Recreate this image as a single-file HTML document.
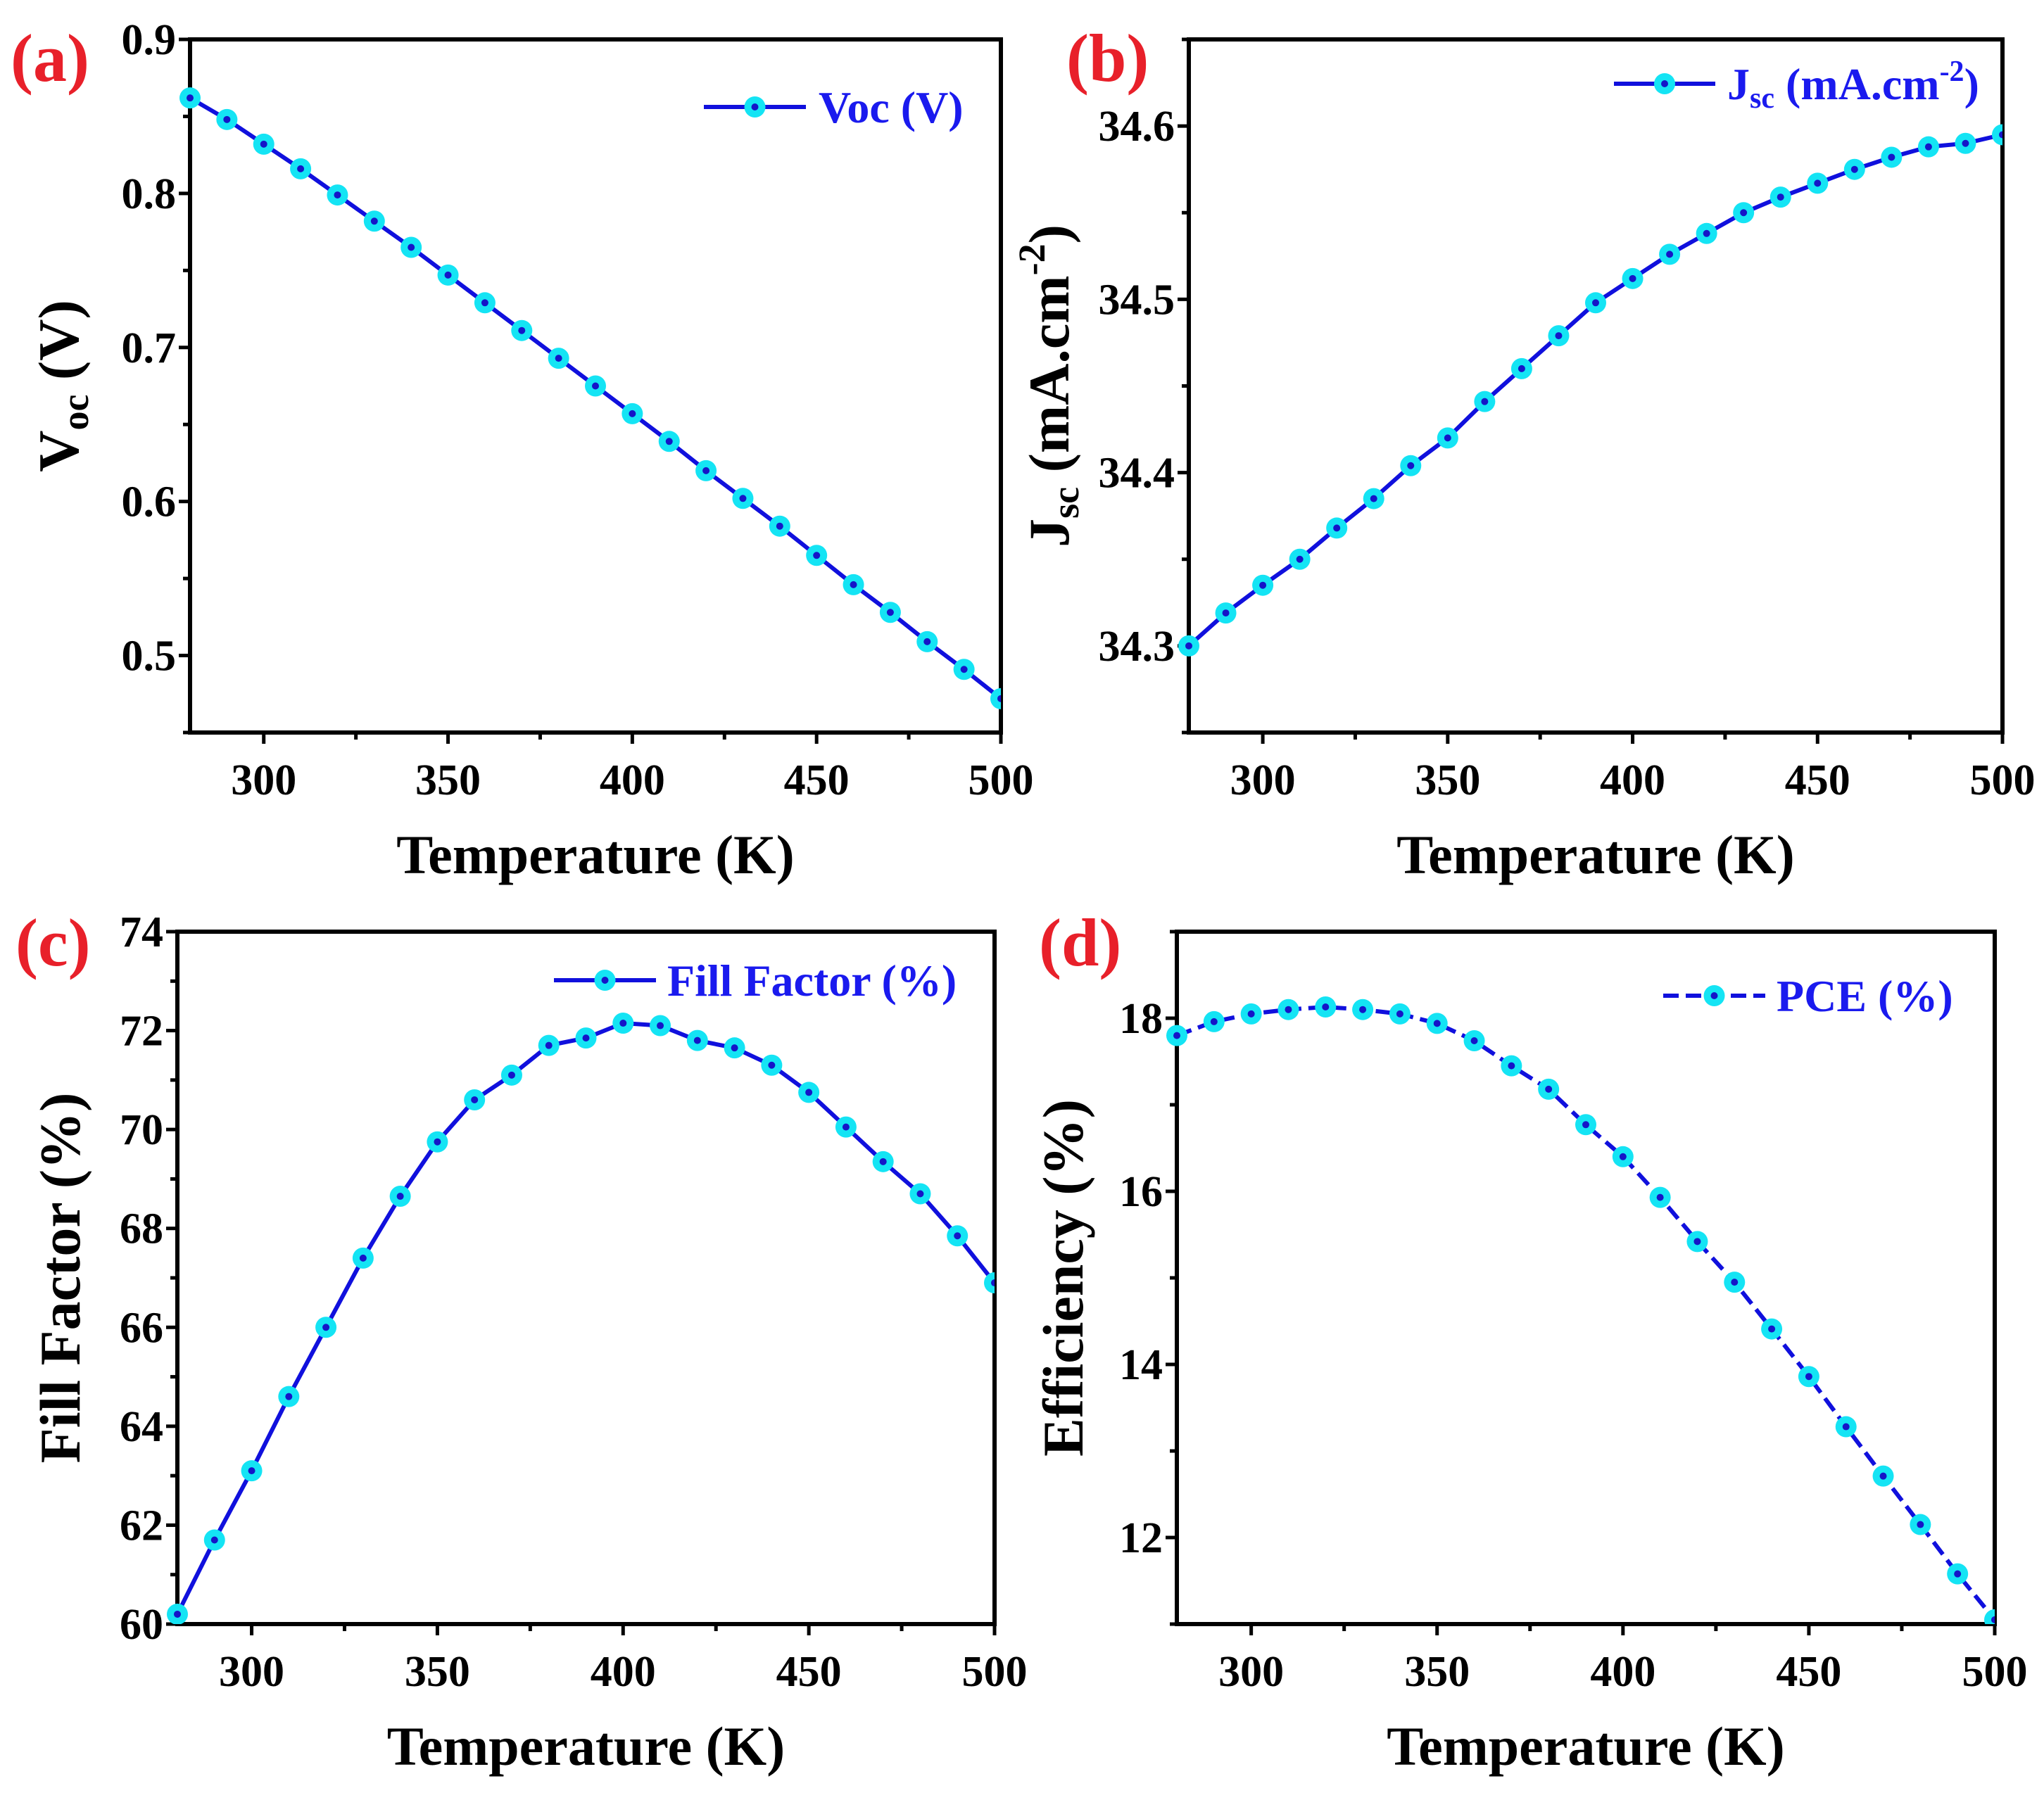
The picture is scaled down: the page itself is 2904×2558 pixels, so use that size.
<!DOCTYPE html>
<html><head><meta charset="utf-8"><style>
html,body{margin:0;padding:0;background:#fff;}
svg{display:block;font-family:"Liberation Serif",serif;font-weight:bold;}
</style></head><body>
<svg id="fig" width="2904" height="2558" viewBox="0 0 2904 2558" xmlns="http://www.w3.org/2000/svg"></svg>
<script>
const temps=[280,290,300,310,320,330,340,350,360,370,380,390,400,410,420,430,440,450,460,470,480,490,500];
const vocValues=[0.862,0.848,0.832,0.816,0.799,0.782,0.765,0.747,0.729,0.711,0.693,0.675,0.657,0.639,0.620,0.602,0.584,0.565,0.546,0.528,0.509,0.491,0.472];
const jscValues=[34.300,34.319,34.335,34.350,34.368,34.385,34.404,34.420,34.441,34.460,34.479,34.498,34.512,34.526,34.538,34.550,34.559,34.567,34.575,34.582,34.588,34.590,34.595];
const ffValues=[60.2,61.7,63.1,64.6,66.0,67.4,68.65,69.75,70.6,71.1,71.7,71.85,72.15,72.1,71.8,71.65,71.3,70.75,70.05,69.35,68.7,67.85,66.9];
const pceValues=[17.8,17.96,18.05,18.1,18.13,18.1,18.05,17.94,17.74,17.45,17.18,16.77,16.4,15.93,15.42,14.95,14.41,13.86,13.28,12.71,12.15,11.58,11.05];
const xTicks=[300,350,400,450,500];
const vocTicks=[0.5,0.6,0.7,0.8,0.9];
const jscTicks=[34.3,34.4,34.5,34.6];
const ffTicks=[60,62,64,66,68,70,72,74];
const pceTicks=[12,14,16,18];

const NS="http://www.w3.org/2000/svg";
const svg=document.getElementById('fig');
function mk(tag,attrs,parent,text){const e=document.createElementNS(NS,tag);for(const k in attrs)e.setAttribute(k,attrs[k]);if(text!==undefined)e.textContent=text;(parent||svg).appendChild(e);return e;}

const panels=[
 {id:'a',label:'(a)',lx:15,ly:115,x0:270,x1:1422,y0:56,y1:1041,ymin:0.45,ymax:0.9,vals:vocValues,ticks:vocTicks,minor:0.05,dec:1,dash:false,
  ytx:83,leg:[1000,1145,152,1163],legText:'Voc (V)',ytitle:[['V',0],['oc',1],[' (V)',0]]},
 {id:'b',label:'(b)',lx:1515,ly:115,x0:1689,x1:2845,y0:56,y1:1041,ymin:34.25,ymax:34.65,vals:jscValues,ticks:jscTicks,minor:0.05,dec:1,dash:false,
  ytx:1490,leg:[2293,2437,119,2454],legText:null,ytitle:[['J',0],['sc',1],[' (mA.cm',0],['-2',2],[')',0]]},
 {id:'c',label:'(c)',lx:22,ly:1372,x0:252,x1:1413,y0:1324,y1:2308,ymin:60,ymax:74,vals:ffValues,ticks:ffTicks,minor:1,dec:0,dash:false,
  ytx:85,leg:[787,932,1393,948],legText:'Fill Factor (%)',ytitle:[['Fill Factor (%)',0]]},
 {id:'d',label:'(d)',lx:1476,ly:1372,x0:1672,x1:2834,y0:1324,y1:2308,ymin:11,ymax:19,vals:pceValues,ticks:pceTicks,minor:1,dec:0,dash:true,
  ytx:1510,leg:[2363,2508,1415,2524],legText:'PCE (%)',ytitle:[['Efficiency (%)',0]]}
];

panels.forEach(p=>{
 const g=mk('g',{});
 
 
 const X=v=>p.x0+(v-280)/(500-280)*(p.x1-p.x0);
 const Y=v=>p.y1-(v-p.ymin)/(p.ymax-p.ymin)*(p.y1-p.y0);
 const pl=mk('text',{x:p.lx,y:p.ly,fill:'#e8202a','font-size':96},g,p.label);
 
 
 const box=mk('rect',{x:p.x0,y:p.y0,width:p.x1-p.x0,height:p.y1-p.y0,fill:'none',stroke:'#000','stroke-width':6},g);
 
 
 for(let v=300;v<=500;v+=25){
  const x=X(v);const major=v%50===0;
  mk('line',{x1:x,x2:x,y1:p.y1,y2:p.y1+(major?16:10),stroke:'#000','stroke-width':5},g);
 }
 xTicks.forEach(v=>{
  const t=mk('text',{x:X(v),y:p.y1+88,'text-anchor':'middle','font-size':62},g,String(v));
  
  
 });
 for(let v=p.ymin;v<=p.ymax+1e-9;v+=p.minor){
  const y=Y(v);const major=p.ticks.some(t=>Math.abs(t-v)<1e-6);
  mk('line',{x1:p.x0,x2:p.x0-(major?16:10),y1:y,y2:y,stroke:'#000','stroke-width':5},g);
 }
 p.ticks.forEach(v=>{
  const t=mk('text',{x:p.x0-20,y:Y(v)+21,'text-anchor':'end','font-size':62},g,v.toFixed(p.dec));
  
  
 });
 const xt=mk('text',{x:(p.x0+p.x1)/2,y:p.y1+200,'text-anchor':'middle','font-size':78},g,'Temperature (K)');
 
 
 const cy=(p.y0+p.y1)/2;
 const yt=mk('text',{x:0,y:0,'text-anchor':'middle','font-size':82,transform:`translate(${p.ytx+28},${cy}) rotate(-90)`},g);
 
 
 let prevKind=0;
 p.ytitle.forEach(([s,k])=>{
  const ts=mk('tspan',{},yt,s);
  if(k===1){ts.setAttribute('font-size',54);ts.setAttribute('dy',14);}
  if(k===2){ts.setAttribute('font-size',54);ts.setAttribute('dy',-34);}
  if(k===0&&prevKind===1)ts.setAttribute('dy',-14);
  if(k===0&&prevKind===2)ts.setAttribute('dy',34);
  prevKind=k;
 });
 const clip=mk('clipPath',{id:'clip'+p.id},g);
 mk('rect',{x:p.x0-16,y:p.y0,width:p.x1-p.x0+16,height:p.y1-p.y0},clip);
 const sg=mk('g',{'clip-path':'url(#clip'+p.id+')'},g);
 
 
 const d=temps.map((t,i)=>(i?'L':'M')+X(t).toFixed(1)+','+Y(p.vals[i]).toFixed(1)).join(' ');
 const line=mk('path',{d:d,fill:'none',stroke:'#1010dd','stroke-width':6,'stroke-dasharray':p.dash?'22 10':'none'},sg);
 
 
 temps.forEach((t,i)=>{
  const c=mk('circle',{cx:X(t),cy:Y(p.vals[i]),r:15,fill:'#14e4f4'},sg);
  
  
  mk('circle',{cx:X(t),cy:Y(p.vals[i]),r:5,fill:'#1515c8'},sg);
 });
 const lg=mk('g',{},g);
 
 
 const [a,b,ly,tx]=p.leg;
 mk('line',{x1:a,x2:b,y1:ly,y2:ly,stroke:'#1010dd','stroke-width':6,'stroke-dasharray':p.dash?'22 10':'none'},lg);
 mk('circle',{cx:(a+b)/2,cy:ly,r:15,fill:'#14e4f4'},lg);
 mk('circle',{cx:(a+b)/2,cy:ly,r:5,fill:'#1515c8'},lg);
 const lt=mk('text',{x:tx,y:ly+22,fill:'#1a1aee','font-size':64},lg);
 if(p.legText){lt.textContent=p.legText;}
 else{mk('tspan',{},lt,'J');mk('tspan',{'font-size':42,dy:12},lt,'sc');mk('tspan',{dy:-12},lt,' (mA.cm');mk('tspan',{'font-size':42,dy:-26},lt,'-2');mk('tspan',{dy:26},lt,')');}
});
</script>
</body></html>
